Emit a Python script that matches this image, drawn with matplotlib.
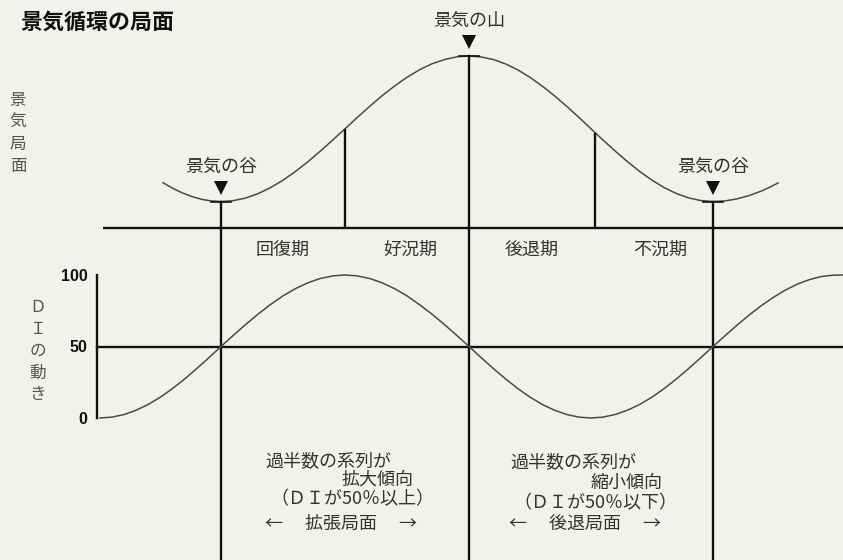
import numpy as np
import matplotlib
matplotlib.use("Agg")
import matplotlib.pyplot as plt

plt.rcParams["font.family"] = ["Noto Sans CJK JP", "DejaVu Sans"]

# upper curve (business-cycle phase) in pixel units (y downwards)
cycle_x = [163, 172, 182, 192, 202, 211, 221, 233, 245, 258, 270, 283, 295, 308, 320,
           333, 345, 357, 370, 382, 395, 407, 420, 432, 445, 457, 469,
           481, 494, 506, 518, 530, 543, 555, 567, 579, 591, 603, 616, 628, 640,
           652, 664, 677, 689, 701, 713, 725, 737, 749, 761, 770, 778]
cycle_y = [182.7, 187.9, 192.8, 196.6, 199.4, 200.9, 201.5, 200.7, 198.2, 193.7, 187.9,
           180.2, 171.8, 161.7, 151.4, 139.8, 128.8, 117.7, 106.1, 95.8, 85.7, 77.3,
           69.5, 63.8, 59.4, 56.8, 56,
           56.9, 59.7, 64.1, 70.0, 77.3, 86.7, 96.2, 106.6, 117.5, 128.8, 140.0, 151.8,
           162.1, 171.7, 180.2, 187.5, 193.8, 198.0, 200.6, 201.5,
           200.9, 198.9, 195.6, 191.2, 187.1, 183]
turn_x = [221, 469, 713]
turn_y = [201.5, 56, 201.5]
turn_labels = ["景気の谷", "景気の山", "景気の谷"]
split_x = [345, 595]
phase_x = [283, 410, 532, 660]
phase_labels = ["回復期", "好況期", "後退期", "不況期"]

# DI curve (x in pixels, value in DI units)
di_x = [100, 112, 124, 136, 148, 160, 172, 184, 196, 208, 221, 233, 245, 258, 270,
        283, 295, 308, 320, 333, 345, 357, 370, 382, 395, 407, 420, 432, 445, 457, 469,
        481, 494, 506, 518, 530, 543, 555, 567, 579, 591, 603, 616, 628, 640, 652,
        664, 677, 689, 701, 713, 725, 737, 749, 761, 773, 785, 797, 809, 821, 833, 843]
di_v = [0, 0.6, 2.4, 5.4, 9.4, 14.4, 20.3, 26.9, 34.1, 41.6, 50, 57.6, 65.0, 72.6, 79.1,
        85.4, 90.3, 94.6, 97.5, 99.4, 100, 99.4, 97.5, 94.6, 90.3, 85.4, 79.0, 72.6,
        65.0, 57.6, 50,
        42.3, 34.2, 27.1, 20.5, 14.6, 9.2, 5.3, 2.4, 0.6, 0, 0.6, 2.6, 5.6, 9.6, 14.6,
        20.5, 27.6, 34.8, 42.3, 50, 57.5, 64.9, 71.9, 78.4, 84.2, 89.3, 93.5, 96.7,
        98.9, 99.9, 100]
di_ticks = [0, 50, 100]

BG = "#f2f1ec"
INK = "#111111"
GREY = "#4a4a4a"
TXT = "#333333"
W, H = 843, 560
BASE_Y = 228
FS = 13

fig = plt.figure(figsize=(W / 100, H / 100), dpi=100, facecolor=BG)
ax = fig.add_axes([0, 0, 1, 1])
ax.set_xlim(0, W)
ax.set_ylim(H, 0)
ax.axis("off")
ax.set_facecolor(BG)

# ── upper panel ──────────────────────────────────────────────
ax.plot(cycle_x, cycle_y, color=GREY, lw=1.1)
ax.hlines(BASE_Y, 103, W, color=INK, lw=1.7)
for x, y in zip(turn_x, turn_y):
    ax.plot([x, x], [y, H], color=INK, lw=1.7)
    ax.plot([x - 10, x + 10], [y, y], color=INK, lw=1.2)
split_top = np.interp(split_x, cycle_x, cycle_y)
ax.vlines(split_x, split_top, BASE_Y, color=INK, lw=1.7)

for x, y, lab in zip(turn_x, turn_y, turn_labels):
    ax.plot(x, y - 14, marker="v", ms=10, color=INK, mew=0)
    ax.text(x, y - 35, lab, ha="center", va="center", fontsize=FS, color=TXT)

for x, lab in zip(phase_x, phase_labels):
    ax.text(x, 250, lab, ha="center", va="center", fontsize=FS, color=TXT)

ax.text(20, 22, "景気循環の局面", ha="left", va="center", fontsize=15.8,
        fontweight="bold", color=INK)
for i, ch in enumerate("景気局面"):
    ax.text(18, 100 + i * 22, ch, ha="center", va="center", fontsize=12, color="#555555")
for i, ch in enumerate("ＤＩの動き"):
    ax.text(38, 307 + i * 22, ch, ha="center", va="center", fontsize=12, color="#555555")

# ── lower text blocks ────────────────────────────────────────
ax.text(265, 461, "過半数の系列が", ha="left", va="center", fontsize=FS, color=TXT)
ax.text(414, 480, "拡大傾向", ha="right", va="center", fontsize=FS, color=TXT)
ax.text(352, 499, "（ＤＩが50％以上）", ha="center", va="center", fontsize=FS, color=TXT)
ax.text(341, 524, "←　 拡張局面 　→", ha="center", va="center", fontsize=FS, color=TXT)

ax.text(510, 462, "過半数の系列が", ha="left", va="center", fontsize=FS, color=TXT)
ax.text(663, 483, "縮小傾向", ha="right", va="center", fontsize=FS, color=TXT)
ax.text(595, 503, "（ＤＩが50％以下）", ha="center", va="center", fontsize=FS, color=TXT)
ax.text(585, 525, "←　 後退局面 　→", ha="center", va="center", fontsize=FS, color=TXT)

# ── DI panel ─────────────────────────────────────────────────
di_top, di_bot = 275, 418
axd = fig.add_axes([97 / W, (H - di_bot) / H, (W - 97) / W, (di_bot - di_top) / H])
axd.set_xlim(97, W)
axd.set_ylim(0, 100)
axd.patch.set_alpha(0)
for s in ("top", "right", "bottom"):
    axd.spines[s].set_visible(False)
axd.spines["left"].set_linewidth(1.7)
axd.spines["left"].set_color(INK)
axd.set_xticks([])
axd.set_yticks(di_ticks)
axd.set_yticklabels([str(t) for t in di_ticks], family="Liberation Sans",
                    fontweight="bold", fontsize=11.5)
axd.tick_params(axis="y", length=0, pad=7, colors=INK)
axd.axhline(50, color=INK, lw=1.7, clip_on=False)
axd.plot(di_x, di_v, color=GREY, lw=1.1, clip_on=False)

fig.savefig("out.png", dpi=100, facecolor=BG)
